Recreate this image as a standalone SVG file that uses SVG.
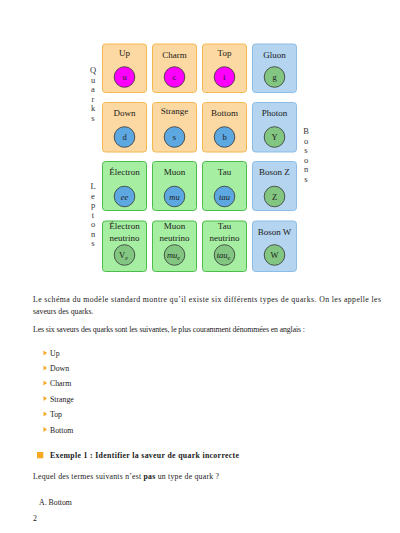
<svg xmlns="http://www.w3.org/2000/svg" width="400" height="533" viewBox="0 0 400 533">
<style>
text{font-family:"Liberation Serif","DejaVu Serif",serif;fill:#1a1a1a;}
.lbl{font-size:9px;text-anchor:middle;}
.ct{font-size:8.5px;text-anchor:middle;}
.it{font-style:italic;}
.side{font-size:8.5px;text-anchor:middle;fill:#333333;}
.body{font-size:7.8px;fill:#1a1a1a;}
.q{fill:#fcd9a2;stroke:#f5b84e;stroke-width:1;}
.l{fill:#a6eea2;stroke:#4bbd4b;stroke-width:1;}
.b{fill:#b4d4ef;stroke:#8cbde6;stroke-width:1;}
.cm{fill:#ff00ff;stroke:#333;stroke-width:0.8;}
.cb{fill:#5ea8e1;stroke:#333;stroke-width:0.8;}
.cg{fill:#82c682;stroke:#333;stroke-width:0.8;}
.tri{fill:#f7a823;}
</style>
<g id="side-labels">
<text class="side" x="93" y="73">Q</text>
<text class="side" x="93" y="82.5">u</text>
<text class="side" x="93" y="92">a</text>
<text class="side" x="93" y="101.5">r</text>
<text class="side" x="93" y="111">k</text>
<text class="side" x="93" y="120.5">s</text>
<text class="side" x="93" y="189">L</text>
<text class="side" x="93" y="198.5">e</text>
<text class="side" x="93" y="208">p</text>
<text class="side" x="93" y="217.5">t</text>
<text class="side" x="93" y="227">o</text>
<text class="side" x="93" y="236.5">n</text>
<text class="side" x="93" y="246">s</text>
<text class="side" x="306" y="134">B</text>
<text class="side" x="306" y="143.5">o</text>
<text class="side" x="306" y="153">s</text>
<text class="side" x="306" y="162.5">o</text>
<text class="side" x="306" y="172">n</text>
<text class="side" x="306" y="181.5">s</text>
</g>
<g id="up"><rect class="q" x="102.5" y="44" width="44" height="48.5" rx="3"/><text class="lbl" x="124.5" y="56">Up</text><circle class="cm" cx="124.5" cy="77" r="10.3"/><text class="ct" x="124.5" y="80">u</text></g>
<g id="charm"><rect class="q" x="152.5" y="44" width="44" height="48.5" rx="3"/><text class="lbl" x="174.5" y="58">Charm</text><circle class="cm" cx="174.5" cy="77" r="10.3"/><text class="ct" x="174.5" y="80">c</text></g>
<g id="top"><rect class="q" x="202.5" y="44" width="44" height="48.5" rx="3"/><text class="lbl" x="224.5" y="56">Top</text><circle class="cm" cx="224.5" cy="77" r="10.3"/><text class="ct" x="224.5" y="80">t</text></g>
<g id="gluon"><rect class="b" x="252.5" y="44" width="44" height="48.5" rx="3"/><text class="lbl" x="274.5" y="58">Gluon</text><circle class="cg" cx="274.5" cy="77" r="10.3"/><text class="ct" x="274.5" y="80">g</text></g>
<g id="down"><rect class="q" x="102.5" y="102.5" width="44" height="49.5" rx="3"/><text class="lbl" x="124.5" y="116">Down</text><circle class="cb" cx="124.5" cy="137" r="10.3"/><text class="ct" x="124.5" y="140">d</text></g>
<g id="strange"><rect class="q" x="152.5" y="102.5" width="44" height="49.5" rx="3"/><text class="lbl" x="174.5" y="114">Strange</text><circle class="cb" cx="174.5" cy="137" r="10.3"/><text class="ct" x="174.5" y="140">s</text></g>
<g id="bottom"><rect class="q" x="202.5" y="102.5" width="44" height="49.5" rx="3"/><text class="lbl" x="224.5" y="116">Bottom</text><circle class="cb" cx="224.5" cy="137" r="10.3"/><text class="ct" x="224.5" y="140">b</text></g>
<g id="photon"><rect class="b" x="252.5" y="102.5" width="44" height="49.5" rx="3"/><text class="lbl" x="274.5" y="116">Photon</text><circle class="cg" cx="274.5" cy="137" r="10.3"/><text class="ct" x="274.5" y="140">Y</text></g>
<g id="electron"><rect class="l" x="102.5" y="161.5" width="44" height="49" rx="3"/><text class="lbl" x="124.5" y="174.5">Électron</text><circle class="cb" cx="124.5" cy="196.5" r="10.3"/><text class="ct it" x="124.5" y="199.5">ee</text></g>
<g id="muon"><rect class="l" x="152.5" y="161.5" width="44" height="49" rx="3"/><text class="lbl" x="174.5" y="174.5">Muon</text><circle class="cb" cx="174.5" cy="196.5" r="10.3"/><text class="ct it" x="174.5" y="199.5">mu</text></g>
<g id="tau"><rect class="l" x="202.5" y="161.5" width="44" height="49" rx="3"/><text class="lbl" x="224.5" y="174.5">Tau</text><circle class="cb" cx="224.5" cy="196.5" r="10.3"/><text class="ct it" x="224.5" y="199.5">tau</text></g>
<g id="bosonz"><rect class="b" x="252.5" y="161.5" width="44" height="49" rx="3"/><text class="lbl" x="274.5" y="174.5">Boson Z</text><circle class="cg" cx="274.5" cy="196.5" r="10.3"/><text class="ct" x="274.5" y="199.5">Z</text></g>
<g id="electron-neutrino"><rect class="l" x="102.5" y="221" width="44" height="50.5" rx="3"/><text class="lbl" x="124.5" y="229">Électron</text><text class="lbl" x="124.5" y="241">neutrino</text><circle class="cg" cx="124.5" cy="255" r="10.3"/><text class="ct" x="123.5" y="258">V<tspan class="it" font-size="6" dy="1.5">e</tspan></text></g>
<g id="muon-neutrino"><rect class="l" x="152.5" y="221" width="44" height="50.5" rx="3"/><text class="lbl" x="174.5" y="229">Muon</text><text class="lbl" x="174.5" y="241">neutrino</text><circle class="cg" cx="174.5" cy="255" r="10.3"/><text class="ct it" x="173.5" y="258">mu<tspan font-size="6" dy="1.5">e</tspan></text></g>
<g id="tau-neutrino"><rect class="l" x="202.5" y="221" width="44" height="50.5" rx="3"/><text class="lbl" x="224.5" y="229">Tau</text><text class="lbl" x="224.5" y="241">neutrino</text><circle class="cg" cx="224.5" cy="255" r="10.3"/><text class="ct it" x="223.5" y="258">tau<tspan font-size="6" dy="1.5">e</tspan></text></g>
<g id="bosonw"><rect class="b" x="252.5" y="221" width="44" height="50.5" rx="3"/><text class="lbl" x="274.5" y="235">Boson W</text><circle class="cg" cx="274.5" cy="255" r="10.3"/><text class="ct" x="274.5" y="258">W</text></g>
<g id="connectors"></g>
<g id="text-body">
<text class="body" x="33" y="302" textLength="348" lengthAdjust="spacing">Le schéma du modèle standard montre qu’il existe six différents types de quarks. On les appelle les</text>
<text class="body" x="33" y="314">saveurs des quarks.</text>
<text class="body" x="33" y="332" textLength="272" lengthAdjust="spacing">Les six saveurs des quarks sont les suivantes, le plus couramment dénommées en anglais :</text>
<polygon class="tri" points="43.5,350.5 47,353 43.5,355.5"/><text class="body" x="50" y="356">Up</text>
<polygon class="tri" points="43.5,365.5 47,368 43.5,370.5"/><text class="body" x="50" y="371">Down</text>
<polygon class="tri" points="43.5,380.5 47,383 43.5,385.5"/><text class="body" x="50" y="386">Charm</text>
<polygon class="tri" points="43.5,396 47,398.5 43.5,401"/><text class="body" x="50" y="402">Strange</text>
<polygon class="tri" points="43.5,411.5 47,414 43.5,416.5"/><text class="body" x="50" y="417">Top</text>
<polygon class="tri" points="43.5,427 47,429.5 43.5,432"/><text class="body" x="50" y="433">Bottom</text>
<rect x="37" y="452" width="6.3" height="6.3" fill="#f7a823"/>
<text class="body" x="50" y="458" font-weight="bold" textLength="189" lengthAdjust="spacing">Exemple 1 : Identifier la saveur de quark incorrecte</text>
<text class="body" x="33" y="479" textLength="186" lengthAdjust="spacing">Lequel des termes suivants n’est <tspan font-weight="bold">pas</tspan> un type de quark ?</text>
<text class="body" x="39" y="505">A.  Bottom</text>
<text class="body" x="33" y="521">2</text>
</g>
</svg>
